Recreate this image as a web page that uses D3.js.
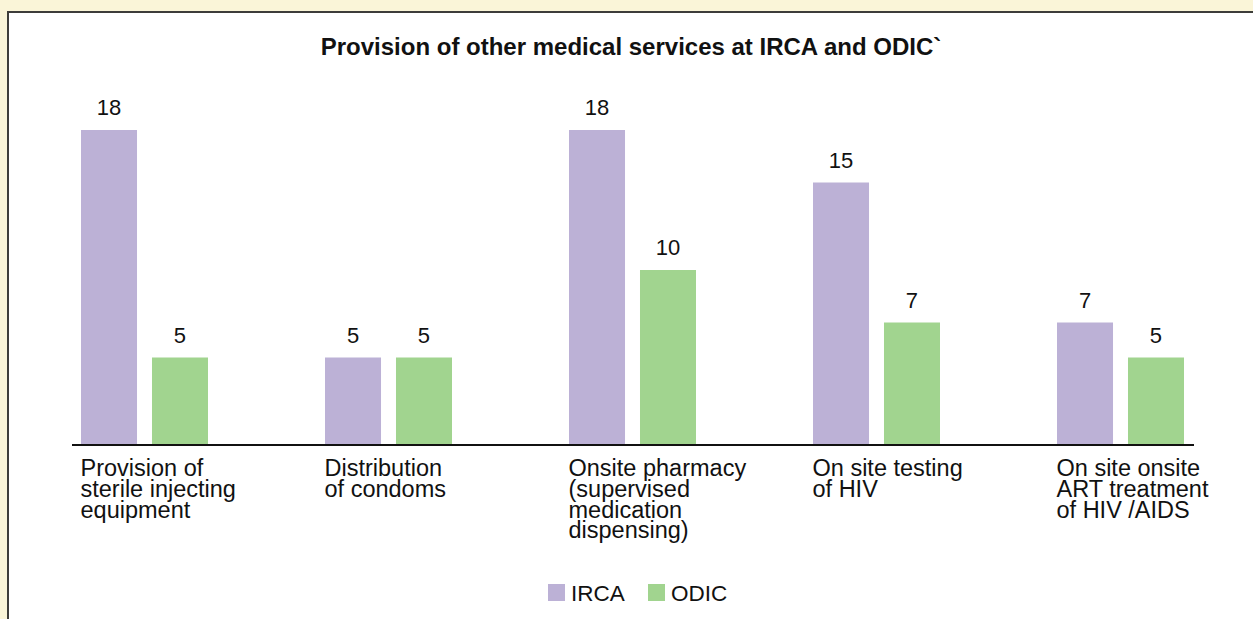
<!DOCTYPE html>
<html>
<head>
<meta charset="utf-8">
<script src="https://cdn.jsdelivr.net/npm/d3@7"></script>
<style>
  html, body { margin: 0; padding: 0; background: #faf5d8; }
  svg { display: block; }
  text { font-family: "Liberation Sans", Arial, Helvetica, sans-serif; fill: #111; }
</style>
</head>
<body>
<script>
const categories = [
  "Provision of\nsterile injecting\nequipment",
  "Distribution\nof condoms",
  "Onsite pharmacy\n(supervised\nmedication\ndispensing)",
  "On site testing\nof HIV",
  "On site onsite\nART treatment\nof HIV /AIDS"
];
const seriesNames = ["IRCA", "ODIC"];
const irca = [18, 5, 18, 15, 7];
const odic = [5, 5, 10, 7, 5];
const colors = ["#bcb1d6", "#a1d48f"];
const title = "Provision of other medical services at IRCA and ODIC`";

const W = 1253, H = 619;
const svg = d3.select("body").append("svg").attr("width", W).attr("height", H);

// panel
svg.append("rect").attr("x", 0).attr("y", 0).attr("width", W).attr("height", H).attr("fill", "#faf5d8");
svg.append("rect").attr("x", 8).attr("y", 12).attr("width", W + 20).attr("height", H + 20)
  .attr("fill", "#ffffff").attr("stroke", "#3d3d3a").attr("stroke-width", 2);

const baseY = 445;
const y = d3.scaleLinear().domain([0, 20]).range([baseY, 95]);
const x0 = d3.scaleBand().domain(categories).range([22.5, 1242.5]).paddingInner(0).paddingOuter(0);
const x1 = d3.scaleBand().domain(seriesNames).range([58.5, 185.5]).paddingInner(0.211).paddingOuter(0);

const data = categories.map((c, i) => ({ cat: c, vals: [irca[i], odic[i]] }));

// title
svg.append("text").attr("x", 631).attr("y", 55).attr("text-anchor", "middle")
  .style("font-weight", "bold").style("font-size", "24px").text(title);

// bars
const g = svg.append("g");
const groups = g.selectAll("g.grp").data(data).join("g").attr("class", "grp")
  .attr("transform", d => `translate(${x0(d.cat)},0)`);

groups.selectAll("rect").data(d => d.vals.map((v, j) => ({ s: seriesNames[j], v, j })))
  .join("rect")
  .attr("x", d => x1(d.s)).attr("width", x1.bandwidth())
  .attr("y", d => y(d.v)).attr("height", d => baseY - y(d.v))
  .attr("fill", d => colors[d.j]);

groups.selectAll("text.val").data(d => d.vals.map((v, j) => ({ s: seriesNames[j], v, j })))
  .join("text").attr("class", "val")
  .attr("x", d => x1(d.s) + x1.bandwidth() / 2)
  .attr("y", d => y(d.v) - 15)
  .attr("text-anchor", "middle").style("font-size", "22px")
  .text(d => d.v);

// axis baseline
svg.append("line").attr("x1", x0.range()[0] + 49.5).attr("x2", x0.range()[1] - 48.5)
  .attr("y1", baseY).attr("y2", baseY).attr("stroke", "#111").attr("stroke-width", 2);

// category labels
groups.append("text").attr("class", "cat")
  .attr("transform", `translate(${x1(seriesNames[0]) - 0.5},476)`)
  .style("font-size", "23.5px")
  .selectAll("tspan").data(d => d.cat.split("\n")).join("tspan")
  .attr("x", 0).attr("y", (d, i) => i * 20.8).text(d => d);

// legend
const leg = svg.append("g");
const legX = [548, 648];
seriesNames.forEach((s, i) => {
  leg.append("rect").attr("x", legX[i]).attr("y", 584).attr("width", 17).attr("height", 17).attr("fill", colors[i]);
  leg.append("text").attr("x", legX[i] + 23).attr("y", 601).style("font-size", "22.5px").text(s);
});
</script>
</body>
</html>
